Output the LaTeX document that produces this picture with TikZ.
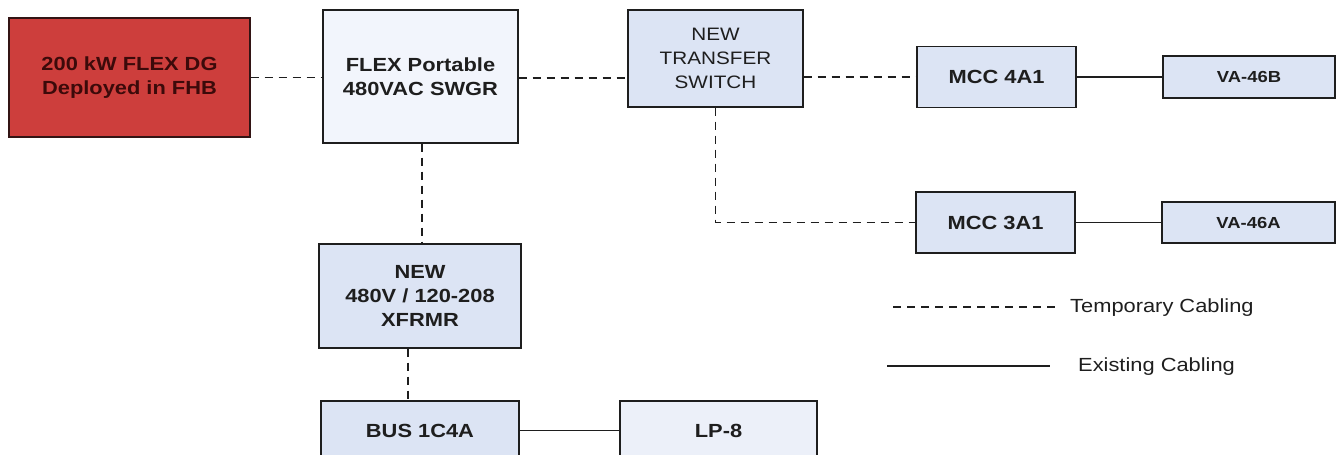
\documentclass[tikz,border=0pt]{standalone}
\usepackage{fontspec}
\setmainfont{Liberation Sans}[FakeStretch=1.15]
\usepackage{xcolor}
\usepackage{tikz}
\usetikzlibrary{positioning}

\definecolor{boxblue}{RGB}{220,228,244}
\definecolor{paleblue}{RGB}{242,245,252}
\definecolor{lpblue}{RGB}{236,240,249}
\definecolor{dgred}{RGB}{205,62,60}
\definecolor{dgline}{RGB}{50,20,20}
\definecolor{dgtext}{RGB}{60,10,10}
\definecolor{ink}{RGB}{30,30,30}

\begin{document}
\begin{tikzpicture}[x=1pt,y=-1pt,
		unit/.style={draw=ink,line width=1.4pt,fill=boxblue,align=center,inner sep=0pt,
			text=ink,font=\bfseries\fontsize{19}{24}\selectfont},
		temp/.style={draw=ink,line width=1.8pt,dash pattern=on 8pt off 6pt},
		exist/.style={draw=ink,line width=1.4pt}]
			
			\useasboundingbox (0,0) rectangle (1341,455);
			
			\node[unit,fill=dgred,draw=dgline,text=dgtext,minimum width=241pt,minimum height=119pt] (dg) at (129.5,77.5) {200 kW FLEX DG\\Deployed in FHB};
			\node[unit,fill=paleblue,minimum width=195pt,minimum height=133pt] (swgr) at (420.5,76.5) {FLEX Portable\\480VAC SWGR};
			\node[unit,font=\fontsize{18}{24}\selectfont,minimum width=175pt,minimum height=97pt] (ts) at (715.5,58.5) {NEW\\TRANSFER\\SWITCH};
			\node[unit,minimum width=159pt,minimum height=61pt] (mcc4) at (996.5,77) {MCC 4A1};
			\node[unit,font=\bfseries\fontsize{16}{20}\selectfont,minimum width=172pt,minimum height=42pt] (va46b) at (1249,77) {VA-46B};
			\node[unit,minimum width=159pt,minimum height=61pt] (mcc3) at (995.5,222.5) {MCC 3A1};
			\node[unit,font=\bfseries\fontsize{16}{20}\selectfont,minimum width=173pt,minimum height=41pt] (va46a) at (1248.5,222.5) {VA-46A};
			\node[unit,minimum width=202pt,minimum height=104pt] (xfrmr) at (420,296) {NEW\\480V / 120-208\\XFRMR};
			\node[unit,minimum width=198pt,minimum height=59pt] (bus) at (420,430.5) {BUS 1C4A};
			\node[unit,fill=lpblue,minimum width=197pt,minimum height=59pt] (lp8) at (718.5,430.5) {LP-8};
			
			\draw[temp] (dg.east) -- (dg.east -| swgr.west);
			\draw[temp] ([yshift=-1.5pt]swgr.east) -- ([yshift=-1.5pt]swgr.east -| ts.west);
			\draw[temp] (mcc4.west -| ts.east) -- (mcc4);
			\draw[exist] (mcc4) -- (va46b);
			\draw[temp] (ts.south) |- (mcc3.west);
			\draw[exist] (mcc3) -- (va46a);
			\draw[temp] ([xshift=1.5pt]swgr.south) -- ([xshift=1.5pt]swgr.south |- xfrmr.north);
			\draw[temp] ([xshift=-12pt]xfrmr.south) -- ([xshift=-12pt]xfrmr.south |- bus.north);
			\draw[exist] (bus) -- (lp8);
			
			% legend
			\coordinate (t1) at (893,307);
			\coordinate (t2) at (1060,307);
			\coordinate (e1) at (887,366);
			\coordinate (e2) at (1050,366);
			\draw[temp] (t1) -- (t2);
			\draw[exist] (e1) -- (e2);
			\node[anchor=west,inner sep=0pt,text=ink,font=\fontsize{19}{24}\selectfont] (tlab) at (1070,308) {Temporary Cabling};
			\node[anchor=west,inner sep=0pt,text=ink,font=\fontsize{19}{24}\selectfont] (elab) at (1078,367) {Existing Cabling};
			
		\end{tikzpicture}
\end{document}
